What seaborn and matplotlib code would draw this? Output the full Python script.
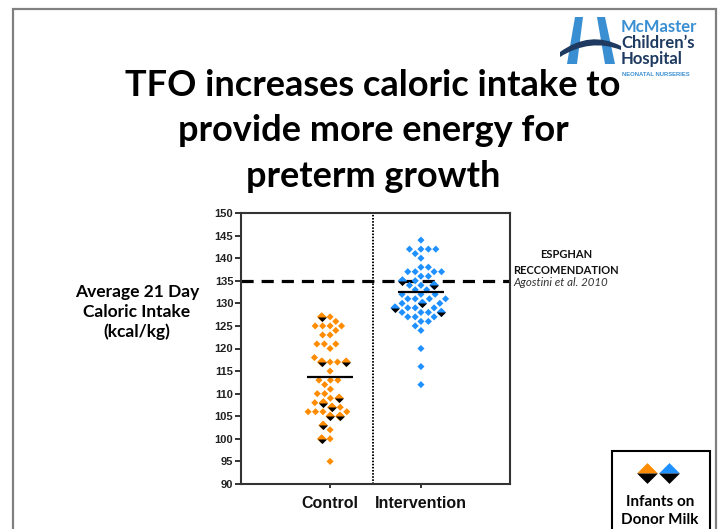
import numpy as np
import pandas as pd
import matplotlib
matplotlib.use("Agg")
import matplotlib.pyplot as plt
import seaborn as sns
from matplotlib.path import Path
from matplotlib.patches import Rectangle, Polygon, PathPatch

# ---------------- data ----------------
groups = ["Control", "Intervention"]
control_other_kcal = [127, 126, 125, 125, 125, 125, 124, 123, 123, 121, 121, 121, 120, 118,
                      117, 117, 115, 113, 113, 113, 112, 111, 110, 110, 109, 108, 107,
                      106, 106, 106, 106, 102, 100, 95]
control_donor_kcal = [127, 117, 117, 109, 108, 107, 105, 105, 103, 100]
intervention_other_kcal = [144, 142, 142, 142, 142, 141, 140, 138, 138, 137, 137, 137, 137,
                           136, 136, 135, 134, 134, 133, 133, 132, 132, 132, 131, 131, 131,
                           131, 130, 130, 129, 129, 129, 128, 128, 128, 127, 127, 127,
                           126, 126, 125, 124, 120, 116, 112]
intervention_donor_kcal = [135, 134, 130, 129, 128]
group_means = [113.8, 132.5]
espghan_reference = 135
y_ticks = [90, 95, 100, 105, 110, 115, 120, 125, 130, 135, 140, 145, 150]
group_colors = ["#FF8C00", "#1E90FF"]

title_lines = ["TFO increases caloric intake to", "provide more energy for", "preterm growth"]
ylabel_lines = ["Average 21 Day", "Caloric Intake", "(kcal/kg)"]
ref_lines = ["ESPGHAN", "RECCOMENDATION", "Agostini et al. 2010"]
legend_lines = ["Infants on", "Donor Milk"]
logo_lines = ["McMaster", "Children\u2019s", "Hospital", "NEONATAL NURSERIES"]

rows = []
for g, other, donor in [(groups[0], control_other_kcal, control_donor_kcal),
                        (groups[1], intervention_other_kcal, intervention_donor_kcal)]:
    rows += [(g, v, False) for v in other]
    rows += [(g, v, True) for v in donor]
df = pd.DataFrame(rows, columns=["group", "kcal", "donor"])

# ---------------- style ----------------
sns.set_theme(style="white")
plt.rcParams["font.family"] = ["Liberation Sans", "DejaVu Sans"]

W, H = 719, 529
fig = plt.figure(figsize=(W / 100, H / 100), dpi=100)
fig.patch.set_facecolor("white")

# decoration layer in pixel coordinates (y downward)
deco = fig.add_axes([0, 0, 1, 1], zorder=-1)
deco.set_xlim(0, W)
deco.set_ylim(H, 0)
deco.axis("off")

ax = fig.add_axes([241 / W, 1 - 484 / H, 269 / W, 271 / H])
ax.set_facecolor("none")

diamond = Path([(0, 1), (1, 0), (0, -1), (-1, 0), (0, 1)],
               [Path.MOVETO, Path.LINETO, Path.LINETO, Path.LINETO, Path.CLOSEPOLY])
top_half = Path([(-1, 0), (0, 1), (1, 0), (-1, 0)],
                [Path.MOVETO, Path.LINETO, Path.LINETO, Path.CLOSEPOLY])
bottom_half = Path([(-1, 0), (0, -1), (1, 0), (-1, 0)],
                   [Path.MOVETO, Path.LINETO, Path.LINETO, Path.CLOSEPOLY])

point_size = 5.1
donor_size = 6.6

sns.swarmplot(data=df, x="group", y="kcal", hue="group", order=groups, hue_order=groups,
              palette=group_colors, marker=diamond, size=point_size, linewidth=0,
              legend=False, ax=ax, zorder=2)

ax.set_xlim(-0.98, 1.98)
ax.set_ylim(90, 150)
ax.set_yticks(y_ticks)
ax.set_xticks(range(len(groups)))
ax.set_xticklabels(groups)
ax.set_xlabel("")
ax.set_ylabel("")

swarm_colls = list(ax.collections[:2])
subs = [df[df.group == g] for g in groups]
for coll, sub in zip(swarm_colls, subs):
    coll.set_sizes(np.where(sub.donor.values, donor_size ** 2, point_size ** 2))

for sp in ax.spines.values():
    sp.set_visible(True)
    sp.set_color("#333333")
    sp.set_linewidth(1.5)
ax.tick_params(axis="y", length=4, width=1.4, color="#333333", direction="out", pad=1.5,
               labelsize=8, left=True)
ax.tick_params(axis="x", length=3, width=1.4, color="#333333", direction="out", pad=6,
               labelsize=11.5, bottom=True)
for lab in ax.get_yticklabels():
    lab.set_fontweight("bold")
    lab.set_color("#222222")
for lab in ax.get_xticklabels():
    lab.set_fontweight("bold")
    lab.set_color("#111111")

# reference, divider and means
ax.axhline(espghan_reference, color="black", lw=2.3, dashes=(3.8, 2.5), zorder=1)
ax.axvline(0.47, color="black", lw=1.4, dashes=(0.8, 0.8), zorder=1)
for i, m in enumerate(group_means):
    ax.hlines(m, i - 0.25, i + 0.25, color="black", lw=1.6, zorder=4)

# donor-milk halves on top of their swarm positions
fig.canvas.draw()
for coll, sub, col in zip(swarm_colls, subs, group_colors):
    xy = np.asarray(coll.get_offsets())
    d = xy[sub.donor.values]
    ax.scatter(d[:, 0], d[:, 1], marker=top_half, s=donor_size ** 2, color=col, lw=0, zorder=5)
    ax.scatter(d[:, 0], d[:, 1], marker=bottom_half, s=donor_size ** 2, color="black", lw=0,
               zorder=5)

# ---------------- decorations ----------------
deco.plot([13, 13, 716, 716], [540, 9, 9, 540], color="#808080", lw=1.6,
          solid_joinstyle="miter")

# title
for txt, yb in zip(title_lines, [96, 141, 187]):
    deco.text(373, yb, txt, ha="center", va="baseline", fontsize=26, fontweight="bold",
              family=["Lato", "DejaVu Sans"], color="black")

# y label
for txt, yb in zip(ylabel_lines, [297, 317, 337]):
    deco.text(137, yb, txt, ha="center", va="baseline", fontsize=12.5, fontweight="bold",
              family=["Lato", "DejaVu Sans"], color="black")

# reference text
deco.text(566, 258, ref_lines[0], ha="center", va="baseline", fontsize=8, fontweight="bold",
          family=["Lato", "DejaVu Sans"], color="#111111")
deco.text(513, 273.5, ref_lines[1], ha="left", va="baseline", fontsize=8, fontweight="bold",
          family=["Lato", "DejaVu Sans"], color="#111111")
deco.text(513, 286, ref_lines[2], ha="left", va="baseline", fontsize=8.3, style="italic",
          family=["Lato", "DejaVu Sans"], color="#333333")

# logo
light_blue = "#3A8FD2"
navy = "#1E3A60"
deco.add_patch(Polygon([(575, 17), (583, 17), (577, 64), (567, 64)], closed=True,
                       facecolor=light_blue, edgecolor="none"))
deco.add_patch(Polygon([(597, 17), (605, 17), (615, 64), (605, 64)], closed=True,
                       facecolor=light_blue, edgecolor="none"))
arc = Path([(560, 52), (590, 30), (621, 46), (621, 50), (590, 38), (560, 57), (560, 52)],
           [Path.MOVETO, Path.CURVE3, Path.CURVE3, Path.LINETO, Path.CURVE3, Path.CURVE3,
            Path.CLOSEPOLY])
deco.add_patch(PathPatch(arc, facecolor=navy, edgecolor="none"))
for txt, yb, col in zip(logo_lines[:3], [32, 48, 64], [light_blue, navy, navy]):
    deco.text(621, yb, txt, ha="left", va="baseline", fontsize=12, fontweight="bold",
              family=["Lato", "DejaVu Sans"], color=col)
deco.text(622, 76, logo_lines[3], ha="left", va="baseline", fontsize=4.2,
          fontweight="bold", family=["Liberation Sans", "DejaVu Sans"], color=light_blue)

# donor milk legend box
deco.add_patch(Rectangle((612, 451), 98, 100, facecolor="white", edgecolor="black", lw=1.5))
for cx, col in zip([647, 669], group_colors):
    deco.scatter([cx], [473], marker=top_half, s=15 ** 2, color=col, lw=0)
    deco.scatter([cx], [473], marker=bottom_half, s=15 ** 2, color="black", lw=0)
for txt, yb in zip(legend_lines, [506, 524]):
    deco.text(660, yb, txt, ha="center", va="baseline", fontsize=11, fontweight="bold",
              family=["Lato", "DejaVu Sans"], color="black")

fig.savefig("out.png", dpi=100, facecolor="white")
